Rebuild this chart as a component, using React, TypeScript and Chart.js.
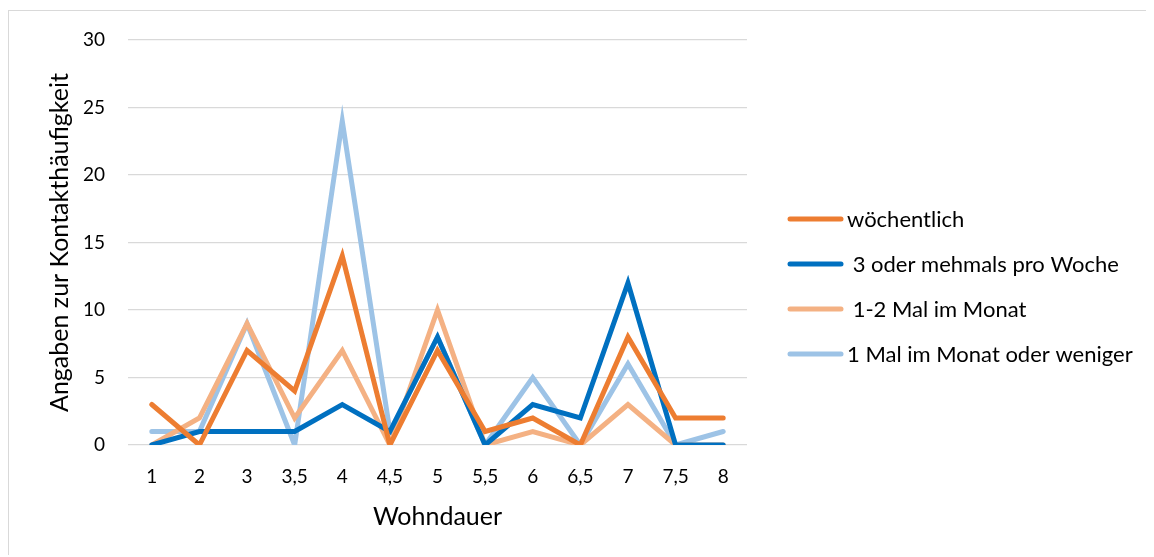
import React, { useEffect, useRef } from "react";
import { Chart, registerables } from "chart.js";

Chart.register(...registerables);

const categories = ["1", "2", "3", "3,5", "4", "4,5", "5", "5,5", "6", "6,5", "7", "7,5", "8"];
const woechentlich = [3, 0, 7, 4, 14, 0, 7, 1, 2, 0, 8, 2, 2];
const dreiOderMehr = [0, 1, 1, 1, 3, 1, 8, 0, 3, 2, 12, 0, 0];
const einBisZweiMal = [0, 2, 9, 2, 7, 0, 10, 0, 1, 0, 3, 0, 0];
const einMalOderWeniger = [1, 1, 9, 0, 24, 1, 8, 0, 5, 0, 6, 0, 1];
const seriesLabels = ["wöchentlich", " 3 oder mehmals pro Woche", " 1-2 Mal im Monat", "1 Mal im Monat oder weniger"];
const seriesColors = ["#ED7D31", "#0070C0", "#F4B183", "#9DC3E6"];
const yTicks = [0, 5, 10, 15, 20, 25, 30];

const FONT = "Lato, 'Liberation Sans', sans-serif";

// Legend drawn beside the plot: a short rounded line swatch followed by the series name.
const sideLegend = {
  id: "sideLegend",
  afterDraw(chart: any) {
    const { ctx, chartArea } = chart;
    const x0 = chartArea.right + 41;
    const swatch = 55;
    ctx.save();
    ctx.font = `22px ${FONT}`;
    ctx.textBaseline = "middle";
    ctx.textAlign = "left";
    chart.data.datasets.forEach((ds: any, i: number) => {
      const y = chartArea.top + 179 + i * 45;
      ctx.strokeStyle = ds.borderColor;
      ctx.lineWidth = 5;
      ctx.lineCap = "round";
      ctx.beginPath();
      ctx.moveTo(x0 + 2, y);
      ctx.lineTo(x0 + swatch - 2, y);
      ctx.stroke();
      ctx.fillStyle = "#000";
      ctx.fillText(ds.label, x0 + swatch + 4, y + 1);
    });
    ctx.restore();
  },
};

export default function App() {
  const ref = useRef<HTMLCanvasElement | null>(null);

  useEffect(() => {
    document.documentElement.style.overflow = "hidden";
    document.body.style.overflow = "hidden";
    if (!ref.current) return;
    const series = [woechentlich, dreiOderMehr, einBisZweiMal, einMalOderWeniger];
    const chart = new Chart(ref.current, {
      type: "line",
      data: {
        labels: categories,
        datasets: series.map((data, i) => ({
          label: seriesLabels[i],
          data,
          borderColor: seriesColors[i],
          backgroundColor: seriesColors[i],
          borderWidth: 5,
          pointRadius: 0,
          tension: 0,
          borderCapStyle: "round" as const,
          borderJoinStyle: "miter" as const,
        })),
      },
      options: {
        responsive: false,
        animation: false,
        layout: { padding: { left: 36, top: 7, right: 399, bottom: 25 } },
        plugins: {
          tooltip: { enabled: false },
          legend: { display: false },
        },
        scales: {
          x: {
            offset: true,
            grid: { display: false, drawTicks: false },
            border: { display: false },
            ticks: { color: "#000", padding: 20, maxRotation: 0, font: { family: FONT, size: 19 } },
            title: {
              display: true,
              text: "Wohndauer",
              color: "#000",
              padding: { top: 0, bottom: 0 },
              font: { family: FONT, size: 25 },
            },
            afterFit: (axis: any) => {
              axis.height = 87;
            },
          },
          y: {
            min: 0,
            max: 30,
            afterBuildTicks: (axis: any) => {
              axis.ticks = yTicks.map((v) => ({ value: v }));
            },
            grid: { color: "#d9d9d9", lineWidth: 1.3, drawTicks: false },
            border: { display: false },
            ticks: { color: "#000", padding: 23, font: { family: FONT, size: 19 } },
            title: {
              display: true,
              text: "Angaben zur Kontakthäufigkeit",
              color: "#000",
              padding: { top: 0, bottom: 0 },
              font: { family: FONT, size: 25 },
            },
            afterFit: (axis: any) => {
              axis.width = 83;
              axis.paddingTop = 29;
            },
          },
        },
      },
      plugins: [sideLegend],
    });
    return () => chart.destroy();
  }, []);

  return (
    <div style={{ position: "relative", top: 2, width: 1180, height: 547, borderTop: "1px solid #d9d9d9", borderLeft: "1px solid #d9d9d9", boxSizing: "border-box" }}>
      <canvas ref={ref} width={1137} height={546} style={{ display: "block" }} />
    </div>
  );
}
